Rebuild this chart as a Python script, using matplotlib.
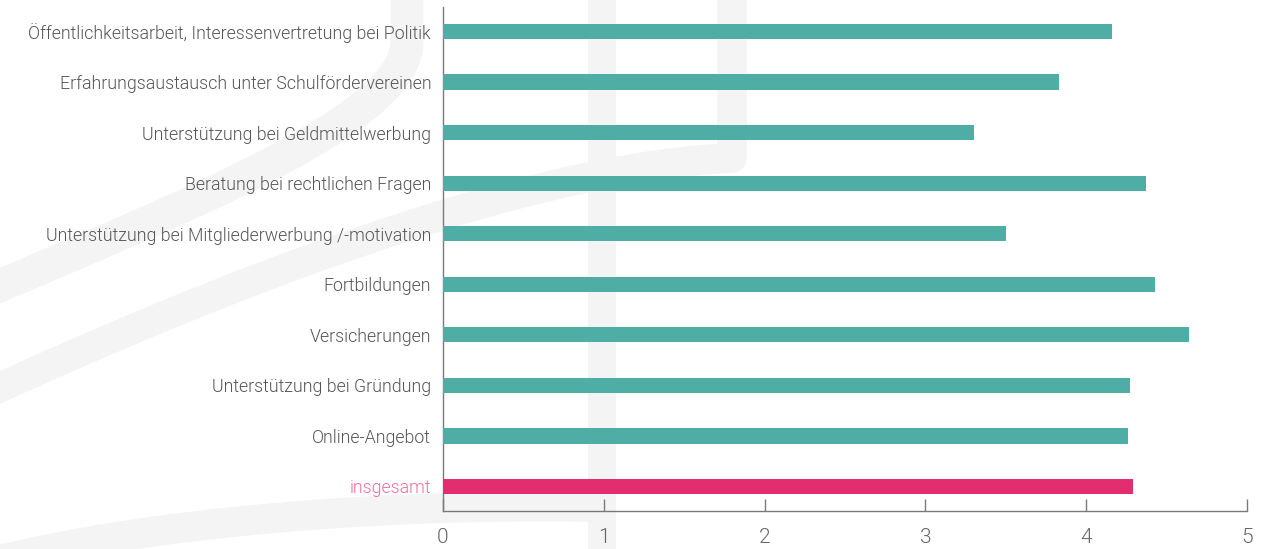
import matplotlib
matplotlib.use("Agg")
import matplotlib.pyplot as plt
from matplotlib.path import Path
from matplotlib.patches import PathPatch

# ---------------- DATA ---------------- #
categories = [
    "Öffentlichkeitsarbeit, Interessenvertretung bei Politik",
    "Erfahrungsaustausch unter Schulfördervereinen",
    "Unterstützung bei Geldmittelwerbung",
    "Beratung bei rechtlichen Fragen",
    "Unterstützung bei Mitgliederwerbung /-motivation",
    "Fortbildungen",
    "Versicherungen",
    "Unterstützung bei Gründung",
    "Online-Angebot",
    "insgesamt",
]
values = [4.16, 3.83, 3.30, 4.37, 3.50, 4.43, 4.64, 4.27, 4.26, 4.29]
xticks = [0, 1, 2, 3, 4, 5]

teal = "#4eaea5"
pink = "#e22e6e"
label_pink = "#ec6f9a"
text_gray = "#555555"
axis_gray = "#7a7a7a"
wm_gray = "#f4f4f4"

plt.rcParams["font.family"] = ["Roboto", "DejaVu Sans"]

W, H = 1278, 549
fig = plt.figure(figsize=(W / 100, H / 100), dpi=100)

# ---------------- WATERMARK (light background logo) ---------------- #
def px(x, y):
    return (x / W, 1 - y / H)

def band(points, codes, width_px):
    path = Path([px(*p) for p in points], codes)
    patch = PathPatch(path, fill=False, edgecolor=wm_gray, lw=width_px * 0.72,
                      capstyle="butt", joinstyle="round",
                      transform=fig.transFigure, zorder=-2)
    fig.add_artist(patch)

C = Path.CURVE4
band([(407, -5), (407, 45), (400, 120), (200, 200), (-10, 290)],
     [Path.MOVETO, Path.LINETO, C, C, C], 33)
band([(732, -5), (732, 158), (560, 165), (300, 250), (-10, 392)],
     [Path.MOVETO, Path.LINETO, C, C, C], 30)
band([(602, -5), (602, 555)], [Path.MOVETO, Path.LINETO], 28)
band([(602, 507), (400, 503), (150, 520), (-20, 565)],
     [Path.MOVETO, C, C, C], 30)

# ---------------- CHART ---------------- #
ax = fig.add_axes([443 / W, 38 / H, (1247 - 443) / W, (511 - 7) / H])
ax.patch.set_alpha(0)

colors = [teal] * (len(values) - 1) + [pink]
ypos = list(range(len(categories)))
ax.barh(ypos, values, height=0.3, color=colors, zorder=3)

ax.set_xlim(0, 5)
ax.set_ylim(9.485, -0.485)
ax.set_xticks(xticks)
ax.set_xticklabels([str(t) for t in xticks])
ax.set_yticks(ypos)
ax.set_yticklabels(categories)

for sp in ["top", "right"]:
    ax.spines[sp].set_visible(False)
for sp in ["left", "bottom"]:
    ax.spines[sp].set_color(axis_gray)
    ax.spines[sp].set_linewidth(1.0)

ax.tick_params(axis="x", direction="in", length=8.6, width=1.0, color=axis_gray,
               labelsize=15, labelcolor="#666666", pad=12)
ax.tick_params(axis="y", length=0, labelsize=12.8, labelcolor=text_gray, pad=8.5)
for lab in ax.get_xticklabels() + ax.get_yticklabels():
    lab.set_fontweight(300)
ax.get_yticklabels()[-1].set_color(label_pink)

fig.savefig("out.png", dpi=100)
